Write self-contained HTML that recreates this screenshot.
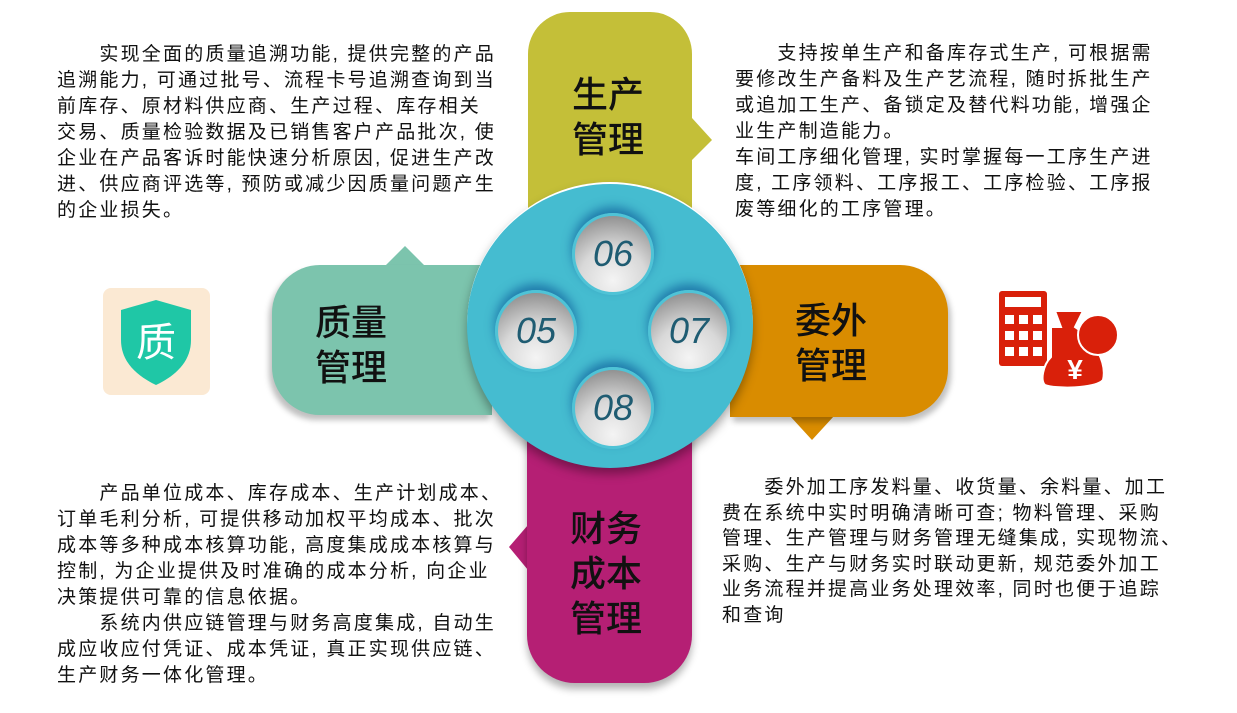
<!DOCTYPE html>
<html><head><meta charset="utf-8"><style>
body{margin:0;width:1237px;height:713px;background:#fff;position:relative;overflow:hidden;font-family:"Liberation Sans","Noto Sans CJK SC",sans-serif;}
.a{position:absolute;}
.t{position:absolute;font-size:19px;letter-spacing:2.2px;line-height:26px;color:#111;white-space:nowrap;}
.lab{position:absolute;font-size:36px;line-height:45px;color:#111;font-weight:500;}
.in{position:absolute;width:76px;height:76px;border-radius:50%;background:radial-gradient(circle at 50% 85%,#f4f4f4 0%,#d8d8d8 45%,#7a7a7a 100%);border:3px solid #4fc3d6;box-shadow:0 -6px 10px rgba(0,70,140,.55);text-align:center;line-height:76px;font-size:36px;font-style:italic;color:#1f5c72;font-family:"Liberation Sans",sans-serif;}
</style></head><body>
<div class="a" style="left:528px;top:12px;width:164px;height:260px;background:#c4bf38;border-radius:42px 42px 0 0;"></div>
<svg class="a" style="left:0;top:0" width="1237" height="713">
<polygon points="692,118 712,140 692,160" fill="#c4bf38"/>
<polygon points="385,266 405,246 425,266" fill="#7cc4ad"/>
<polygon points="790,416 812,440 834,416" fill="#d98c00"/>
<polygon points="528,525 509,547 528,570" fill="#b51f74"/>
</svg>
<div class="a" style="left:272px;top:265px;width:220px;height:150px;background:#7cc4ad;border-radius:48px 0 0 48px;box-shadow:-3px 5px 6px rgba(0,0,0,.25);"></div>
<div class="a" style="left:730px;top:265px;width:218px;height:152px;background:#d98c00;border-radius:0 48px 48px 0;box-shadow:3px 5px 6px rgba(0,0,0,.25);"></div>
<div class="a" style="left:527px;top:430px;width:165px;height:253px;background:#b51f74;border-radius:0 0 48px 48px;box-shadow:0 6px 8px rgba(0,0,0,.3);"></div>
<div class="a" style="left:467px;top:182px;width:286px;height:286px;border-radius:50%;background:#45bcd0;box-shadow:0 6px 10px rgba(0,0,0,.35);border-top:2px solid #fff;box-sizing:border-box;"></div>
<div class="in" style="left:572px;top:213px;">06</div>
<div class="in" style="left:495px;top:290px;">05</div>
<div class="in" style="left:648px;top:290px;">07</div>
<div class="in" style="left:572px;top:367px;">08</div>
<div class="lab" style="left:572px;top:72px;">生产<br>管理</div>
<div class="lab" style="left:315px;top:300px;">质量<br>管理</div>
<div class="lab" style="left:795px;top:298px;">委外<br>管理</div>
<div class="lab" style="left:570px;top:506px;">财务<br>成本<br>管理</div>
<div class="t" style="left:57px;top:42px;">　　实现全面的质量追溯功能, 提供完整的产品<br>追溯能力, 可通过批号、流程卡号追溯查询到当<br>前库存、原材料供应商、生产过程、库存相关<br>交易、质量检验数据及已销售客户产品批次, 使<br>企业在产品客诉时能快速分析原因, 促进生产改<br>进、供应商评选等, 预防或减少因质量问题产生<br>的企业损失。</div>
<div class="t" style="left:735px;top:41px;">　　支持按单生产和备库存式生产, 可根据需<br>要修改生产备料及生产艺流程, 随时拆批生产<br>或追加工生产、备锁定及替代料功能, 增强企<br>业生产制造能力。<br>车间工序细化管理, 实时掌握每一工序生产进<br>度, 工序领料、工序报工、工序检验、工序报<br>废等细化的工序管理。</div>
<div class="t" style="left:57px;top:481px;">　　产品单位成本、库存成本、生产计划成本、<br>订单毛利分析, 可提供移动加权平均成本、批次<br>成本等多种成本核算功能, 高度集成成本核算与<br>控制, 为企业提供及时准确的成本分析, 向企业<br>决策提供可靠的信息依据。<br>　　系统内供应链管理与财务高度集成, 自动生<br>成应收应付凭证、成本凭证, 真正实现供应链、<br>生产财务一体化管理。</div>
<div class="t" style="left:722px;top:475px;line-height:25.5px;">　　委外加工序发料量、收货量、余料量、加工<br>费在系统中实时明确清晰可查; 物料管理、采购<br>管理、生产管理与财务管理无缝集成, 实现物流、<br>采购、生产与财务实时联动更新, 规范委外加工<br>业务流程并提高业务处理效率, 同时也便于追踪<br>和查询</div>
<div class="a" style="left:103px;top:288px;width:107px;height:107px;background:#fbe9d3;border-radius:8px;"></div>
<svg class="a" style="left:103px;top:288px" width="107" height="107">
<path d="M53,12 L88,22 L88,52 C88,74 72,88 53,97 C34,88 18,74 18,52 L18,22 Z" fill="#1fc7a6"/>
<text x="53" y="68" text-anchor="middle" font-size="40" fill="#fff" font-family="Noto Sans CJK SC,sans-serif">质</text>
</svg>
<svg class="a" style="left:995px;top:285px" width="130" height="110">
<rect x="4" y="6" width="48" height="75" rx="3" fill="#d9200a"/>
<rect x="10" y="12" width="36" height="10" fill="#fff"/>
<g fill="#fff"><rect x="10" y="30" width="9" height="9"/><rect x="24" y="30" width="9" height="9"/><rect x="38" y="30" width="9" height="9"/>
<rect x="10" y="46" width="9" height="9"/><rect x="24" y="46" width="9" height="9"/><rect x="38" y="46" width="9" height="9"/>
<rect x="10" y="62" width="9" height="9"/><rect x="24" y="62" width="9" height="9"/><rect x="38" y="62" width="9" height="9"/></g>
<path d="M60,26 L88,26 L80,42 C100,55 112,78 108,95 C100,104 60,104 50,100 C45,96 48,80 56,72 L56,42 L66,42 Z" fill="#d9200a" stroke="#fff" stroke-width="2"/>
<circle cx="103" cy="50" r="20" fill="#d9200a" stroke="#fff" stroke-width="2"/>
<text x="80" y="94" text-anchor="middle" font-size="28" font-weight="bold" fill="#fff" font-family="Liberation Sans,sans-serif">¥</text>
</svg>
</body></html>
